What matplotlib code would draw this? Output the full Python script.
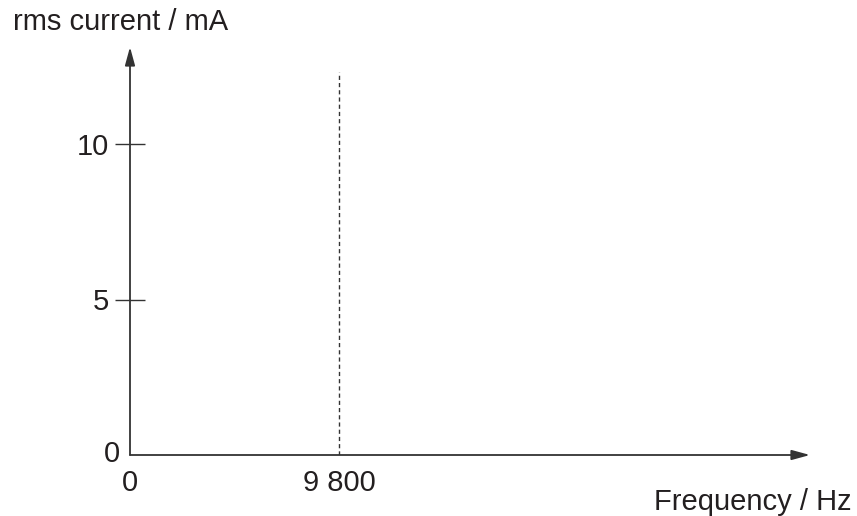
import numpy as np
import matplotlib
matplotlib.use("Agg")
import matplotlib.pyplot as plt

plt.rcParams['font.family'] = ['Liberation Sans', 'DejaVu Sans']

# chart values
y_ticks = [0, 5, 10]
y_tick_labels = ['0', '5', '10']
x_ticks = [0, 9800]
x_tick_labels = ['0', '9 800']
resonance_freq = 9800
dashed_top = 12.3
x_label = 'Frequency / Hz'
y_label = 'rms current / mA'

W, H = 857, 516
fig = plt.figure(figsize=(W / 100, H / 100), dpi=100)

# axes placed in pixel coords: origin (130, 455), arrow tips x=810, y=47
x0, y0, x1, y1 = 130, 455, 810, 47
ax = fig.add_axes([x0 / W, 1 - y0 / H, (x1 - x0) / W, (y0 - y1) / H])
px_per_unit = (455 - 144) / 10
ax.set_ylim(0, (y0 - y1) / px_per_unit)
ax.set_xlim(0, 9800 * (x1 - x0) / (339 - x0))

col = '#333333'
txt = '#231f20'
fs = 21
for s in ax.spines.values():
    s.set_visible(False)

# axes with arrows
arrow = dict(arrowstyle='-|>,head_length=1.1,head_width=0.3',
             color=col, lw=1.3, shrinkA=0, shrinkB=0)
ax.annotate('', xy=(1, 0), xytext=(0, 0), xycoords='axes fraction', arrowprops=arrow)
ax.annotate('', xy=(0, 1), xytext=(0, 0), xycoords='axes fraction', arrowprops=arrow)

ax.vlines(resonance_freq, 0, dashed_top, colors=col, linestyles=(0, (3, 2.2)), lw=1.0)

ax.set_yticks(y_ticks[1:])
ax.set_yticklabels(y_tick_labels[1:])
ax.tick_params(axis='y', direction='inout', length=21.6, width=1.0, color=col,
               labelsize=fs, pad=4.5, labelcolor=txt)
ax.set_xticks(x_ticks)
ax.set_xticklabels(x_tick_labels)
ax.tick_params(axis='x', length=0, labelsize=fs, pad=10, labelcolor=txt)

# zero label of the y axis sits closer to the axis than the others
ax.annotate(y_tick_labels[0], xy=(0, 0), xycoords='data', xytext=(-7, 1),
            textcoords='offset points', fontsize=fs, color=txt, ha='right', va='center')

fig.text(13 / W, 1 - 22 / H, y_label, fontsize=fs, color=txt, ha='left', va='center')
fig.text(852 / W, 1 - 502 / H, x_label, fontsize=fs, color=txt, ha='right', va='center')

fig.savefig('out.png', dpi=100)
